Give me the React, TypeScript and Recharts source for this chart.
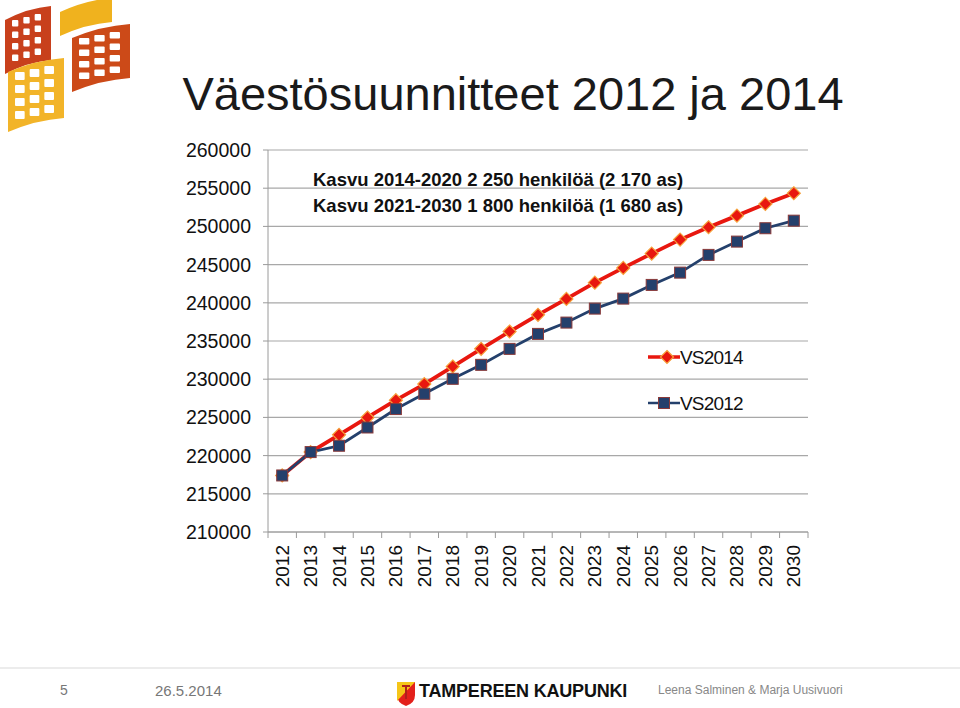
import React from 'react';
import { LineChart, Line, XAxis, YAxis, CartesianGrid } from 'recharts';

const years = ['2012', '2013', '2014', '2015', '2016', '2017', '2018', '2019', '2020', '2021',
  '2022', '2023', '2024', '2025', '2026', '2027', '2028', '2029', '2030'];

const vs2014 = [217400, 220460, 222720, 224990, 227260, 229360, 231660, 233970, 236240, 238420,
  240510, 242640, 244570, 246440, 248270, 249890, 251410, 252940, 254340];

const vs2012 = [217400, 220460, 221290, 223680, 226090, 228090, 230050, 231880, 233970, 235930,
  237410, 239240, 240550, 242340, 243950, 246270, 248010, 249760, 250750];

const yTicks = [210000, 215000, 220000, 225000, 230000, 235000, 240000, 245000, 250000, 255000, 260000];

const notes = ['Kasvu 2014-2020 2 250 henkilöä (2 170 as)', 'Kasvu 2021-2030 1 800 henkilöä (1 680 as)'];

const data = years.map((y, i) => ({ year: y, VS2014: vs2014[i], VS2012: vs2012[i] }));

const FONT = '"Liberation Sans", Arial, sans-serif';
const RED = '#e8170f';
const BLUE = '#24406c';

const PLOT_LEFT = 268;
const PLOT_RIGHT = 808;
const PLOT_TOP = 150;
const PLOT_BOTTOM = 532;
const BAND = (PLOT_RIGHT - PLOT_LEFT) / years.length;

const Diamond = (props: any) => {
  const { cx, cy } = props;
  if (cx == null || cy == null) return null;
  const r = 6.5;
  return (
    <path
      d={`M${cx},${cy - r} L${cx + r},${cy} L${cx},${cy + r} L${cx - r},${cy} Z`}
      fill={RED}
      stroke="#f6a13a"
      strokeWidth={1.2}
    />
  );
};

const Square = (props: any) => {
  const { cx, cy } = props;
  if (cx == null || cy == null) return null;
  const s = 5.5;
  return <rect x={cx - s} y={cy - s} width={s * 2} height={s * 2} fill={BLUE} stroke="#8a3a3a" strokeWidth={1} />;
};

const XTick = (props: any) => {
  const { x, y, payload, index } = props;
  const half = BAND / 2;
  return (
    <g>
      <line x1={x - half} y1={y - 6} x2={x - half} y2={y} stroke="#9a9a9a" />
      {index === years.length - 1 && <line x1={x + half} y1={y - 6} x2={x + half} y2={y} stroke="#9a9a9a" />}
      <text
        x={x}
        y={y + 7}
        transform={`rotate(-90 ${x} ${y + 7})`}
        textAnchor="end"
        dominantBaseline="central"
        fontSize={19}
        fontFamily={FONT}
        fill="#111"
      >
        {payload.value}
      </text>
    </g>
  );
};

const LegendBox = () => (
  <svg width={130} height={80} style={{ position: 'absolute', left: 645, top: 345 }}>
    <line x1={3} y1={12} x2={35} y2={12} stroke={RED} strokeWidth={3.5} />
    <Diamond cx={22} cy={12} />
    <text x={35} y={18.5} fontSize={19} fontFamily={FONT} fill="#111" letterSpacing={-0.8}>VS2014</text>
    <line x1={3} y1={58} x2={35} y2={58} stroke={BLUE} strokeWidth={2.5} />
    <Square cx={19} cy={58} />
    <text x={35} y={64.5} fontSize={19} fontFamily={FONT} fill="#111" letterSpacing={-0.8}>VS2012</text>
  </svg>
);

const Logo = () => {
  const flag = (x: number, y: number, w: number, h: number, color: string, key: string) => {
    const cells = [];
    for (let r = 0; r < 4; r++) {
      for (let c = 0; c < 3; c++) {
        cells.push(
          <rect key={`${key}-${r}-${c}`} x={x + 7 + c * ((w - 12) / 3)} y={y + 8 + r * ((h - 16) / 4) - c * 3}
            width={(w - 12) / 3 - 5} height={(h - 16) / 4 - 5} fill="#fff" rx={1} />
        );
      }
    }
    return (
      <g key={key}>
        <path d={`M${x},${y + 8} Q${x + w / 2},${y - 4} ${x + w},${y - 6} L${x + w},${y + h - 14} Q${x + w / 2},${y + h - 12} ${x},${y + h} Z`} fill={color} />
        {cells}
      </g>
    );
  };
  return (
    <svg width={140} height={140} style={{ position: 'absolute', left: 0, top: 0 }}>
      {flag(5, 12, 46, 62, '#c8401c', 'a')}
      {flag(60, 4, 52, 32, '#f0b21e', 'b')}
      {flag(72, 30, 58, 62, '#cc4a18', 'c')}
      {flag(8, 64, 56, 68, '#f2b429', 'd')}
    </svg>
  );
};

export default function App() {
  return (
    <div style={{ position: 'fixed', left: 0, top: 0, width: 960, height: 708, background: '#fff', fontFamily: FONT, overflow: 'hidden' }}>
      <Logo />
      <div style={{ position: 'absolute', left: 0, width: 1026, top: 66, textAlign: 'center', fontSize: 47, color: '#1a1a1a', whiteSpace: 'nowrap' }}>
        Väestösuunnitteet 2012 ja 2014
      </div>
      <LineChart
        width={960}
        height={708}
        data={data}
        margin={{ top: PLOT_TOP, left: PLOT_LEFT - 90, right: 960 - PLOT_RIGHT, bottom: 708 - PLOT_BOTTOM - 60 }}
        style={{ position: 'absolute', left: 0, top: 0 }}
      >
        <CartesianGrid vertical={false} stroke="#a8a8a8" strokeWidth={1.2} />
        <XAxis
          dataKey="year"
          height={60}
          interval={0}
          stroke="#9a9a9a"
          tickLine={false}
          tickSize={6}
          tickMargin={0}
          padding={{ left: BAND / 2, right: BAND / 2 }}
          tick={<XTick />}
        />
        <YAxis
          domain={[210000, 260000]}
          ticks={yTicks}
          width={90}
          stroke="#9a9a9a"
          tickSize={5}
          tickMargin={12}
          tick={{ fontSize: 19.5, fontFamily: FONT, fill: '#111' }}
          interval={0}
        />
        <Line dataKey="VS2014" stroke={RED} strokeWidth={3.8} dot={<Diamond />} isAnimationActive={false} />
        <Line dataKey="VS2012" stroke={BLUE} strokeWidth={2.8} dot={<Square />} isAnimationActive={false} />
      </LineChart>
      <LegendBox />
      {notes.map((n, i) => (
        <div key={n} style={{ position: 'absolute', left: 313, top: 169 + i * 26, fontSize: 18.5, fontWeight: 'bold', color: '#111', whiteSpace: 'nowrap' }}>
          {n}
        </div>
      ))}
      <div style={{ position: 'absolute', left: 0, top: 667, width: 960, height: 2, background: '#ececec' }} />
      <div style={{ position: 'absolute', left: 60, top: 682, fontSize: 14, color: '#777' }}>5</div>
      <div style={{ position: 'absolute', left: 155, top: 682, fontSize: 15, color: '#777' }}>26.5.2014</div>
      <svg width={20} height={26} style={{ position: 'absolute', left: 396, top: 681 }}>
        <path d="M1,1 L19,1 L19,14 Q19,22 10,25 Q1,22 1,14 Z" fill="#e3201b" />
        <path d="M1,1 L19,1 L1,20 Z" fill="#f5c518" />
        <path d="M6,5 L14,5 M10,5 L10,18" stroke="#b0201b" strokeWidth={2} />
      </svg>
      <div style={{ position: 'absolute', left: 419, top: 681, fontSize: 18, fontWeight: 'bold', color: '#111', letterSpacing: -0.2 }}>
        TAMPEREEN KAUPUNKI
      </div>
      <div style={{ position: 'absolute', left: 658, top: 683, fontSize: 12, color: '#888' }}>
        Leena Salminen &amp; Marja Uusivuori
      </div>
    </div>
  );
}
